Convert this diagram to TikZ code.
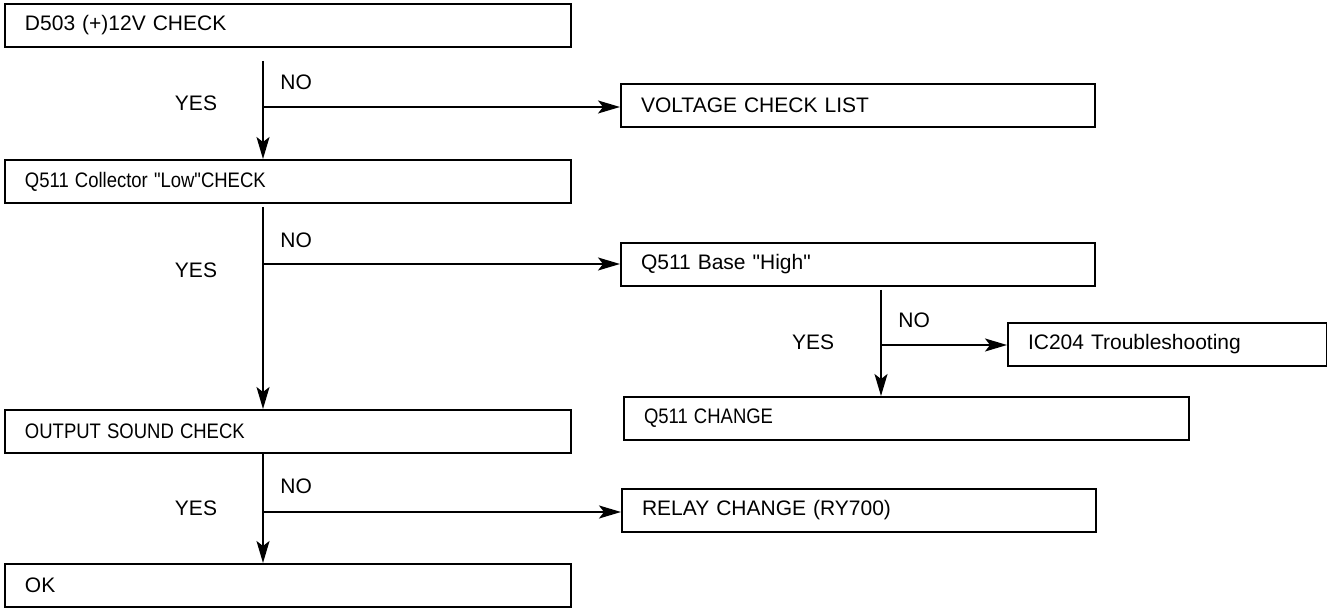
\documentclass[tikz,border=0pt]{standalone}
\usepackage{fontspec}
\setmainfont{Liberation Sans}
\usepackage{graphicx}
\usetikzlibrary{arrows.meta}

\tikzset{
  box/.style={draw, line width=1pt, anchor=north west, minimum height=21.5pt,
    inner xsep=10pt, text width=#1, align=left},
  flow/.style={line width=0.8pt, -{Stealth[length=11pt,width=6.5pt,inset=2.5pt]}},
  wire/.style={line width=0.8pt},
  answer/.style={inner sep=0pt}
}
\newcommand{\narrow}[1]{\scalebox{0.88}[1]{#1}}
\newcommand{\qq}{\textquotedbl}

\begin{document}
\begin{tikzpicture}[x=0.5pt,y=-0.5pt,font=\fontsize{10.5pt}{12pt}\selectfont]
				\useasboundingbox (0,0) rectangle (1327,608);
				% left column
				\node[box=263pt] (d503) at (4,3) {D503 (+)12V CHECK};
				\node[box=263pt] (coll) at (4,159) {\narrow{Q511 Collector \qq Low\qq CHECK}};
				\node[box=263pt] (sound) at (4,409) {\narrow{OUTPUT SOUND CHECK}};
				\node[box=263pt] (ok) at (4,563) {OK};
				% right column
				\node[box=217pt] (vlist) at (620,83) {VOLTAGE CHECK LIST};
				\node[box=217pt] (base) at (620,242) {Q511 Base \qq High\qq};
				\node[box=262.5pt] (qchange) at (623,396) {\narrow{Q511 CHANGE}};
				\node[box=139.5pt] (ictrouble) at (1007,322) {IC204 Troubleshooting};
				\node[box=217pt] (relay) at (621,488) {RELAY CHANGE (RY700)};
				% branch points
				\coordinate (j1) at (263,107);
				\coordinate (j2) at (263,264);
				\coordinate (j3) at (881,345);
				\coordinate (j4) at (263,512);
				% answers
				\foreach \k/\xn/\yn/\xy/\yy in {1/280/82/196/103, 2/280/240/196/270, 3/898/320/813/342, 4/280/486/196/508}
				{
					\node[answer, anchor=west] (no\k) at (\xn,\yn) {NO};
					\node[answer] (yes\k) at (\xy,\yy) {YES};
				}
				% connectors
				\draw[flow] ([yshift=-6.5pt]d503.south -| j1) -- (coll.north -| j1);
				\draw[flow] (j1) -- (vlist.west |- j1);
				\draw[flow] ([yshift=-1.5pt]coll.south -| j2) -- (sound.north -| j2);
				\draw[flow] (j2) -- (base.west |- j2);
				\draw[flow] ([yshift=-1.5pt]base.south -| j3) -- (qchange.north -| j3);
				\draw[flow] (j3) -- (ictrouble.west |- j3);
				\draw[flow] (sound.south -| j4) -- (ok.north -| j4);
				\draw[flow] (j4) -- (relay.west |- j4);
			\end{tikzpicture}
\end{document}
